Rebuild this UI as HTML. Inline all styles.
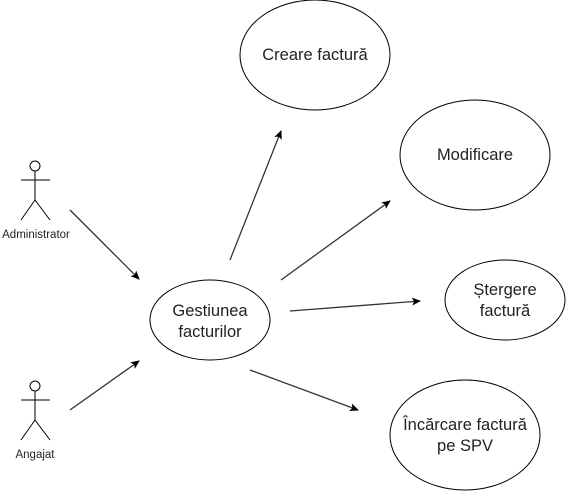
<!DOCTYPE html>
<html><head><style>html,body{margin:0;padding:0;background:#fff;width:566px;height:491px;overflow:hidden}</style></head>
<body>
<svg width="566" height="491" xmlns="http://www.w3.org/2000/svg" font-family="Liberation Sans, Arial, sans-serif">
<defs><marker id="a" markerWidth="10" markerHeight="10" refX="8" refY="5" orient="auto" markerUnits="userSpaceOnUse"><path d="M0,1 L9,5 L0,9 L2,5 z" fill="#000"/></marker></defs>
<g fill="#fff" stroke="#000" stroke-width="1">
<ellipse cx="210" cy="320" rx="60" ry="40"/>
<ellipse cx="315" cy="55" rx="75" ry="55"/>
<ellipse cx="475" cy="155" rx="75" ry="55"/>
<ellipse cx="505" cy="300" rx="60" ry="40"/>
<ellipse cx="465" cy="435" rx="75" ry="55"/>
<circle cx="35" cy="166" r="5"/>
<circle cx="35" cy="386" r="5"/>
</g>
<g stroke="#000" fill="none">
<path d="M35,171V200M21,180H50M35,200L21,220M35,200L50,220"/>
<path d="M35,391V420M21,400H50M35,420L21,440M35,420L50,440"/>
</g>
<g stroke="#333" stroke-width="1.3" marker-end="url(#a)">
<line x1="70" y1="210" x2="139" y2="279"/>
<line x1="70" y1="410" x2="139" y2="361"/>
<line x1="230" y1="260" x2="281" y2="131"/>
<line x1="281" y1="280" x2="390" y2="201"/>
<line x1="290" y1="311" x2="420" y2="301"/>
<line x1="250" y1="370" x2="358" y2="410"/>
</g>
<g font-size="11.5" text-anchor="middle" fill="#222">
<text x="36" y="238">Administrator</text>
<text x="35" y="458">Angajat</text>
</g>
<g font-size="16.5" text-anchor="middle" fill="#222">
<text x="210" y="316">Gestiunea</text>
<text x="210" y="337">facturilor</text>
<text x="315" y="60">Creare factură</text>
<text x="475" y="160">Modificare</text>
<text x="505" y="295">Ștergere</text>
<text x="505" y="316">factură</text>
<text x="465" y="430">Încărcare factură</text>
<text x="465" y="451">pe SPV</text>
</g>
</svg>
</body></html>
